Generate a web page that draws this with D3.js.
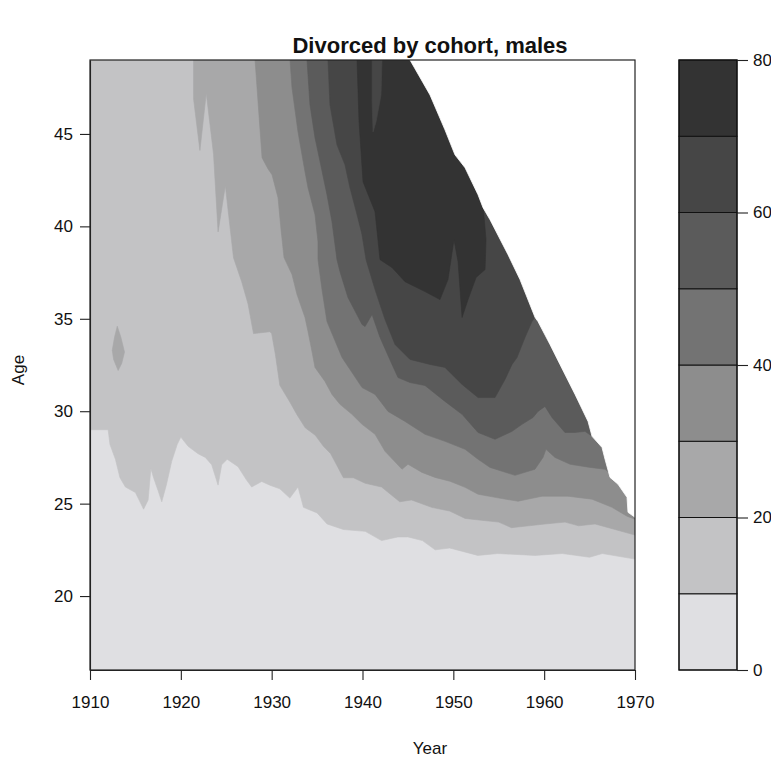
<!DOCTYPE html>
<html><head><meta charset="utf-8">
<script src="https://cdn.jsdelivr.net/npm/d3@7"></script>
<style>body{margin:0;background:#fff} svg{display:block} text{font-family:"Liberation Sans",Arial,Helvetica,sans-serif}</style>
</head><body><svg id="c" width="771" height="763"></svg>
<script>
// ---- data ----
const levels = [0,10,20,30,40,50,60,70,80];
const levelColors = ["#dfdfe2","#c3c3c5","#a8a8a9","#8d8d8d","#737373","#5b5b5b","#464646","#333333"];
const yearTicks = [1910,1920,1930,1940,1950,1960,1970];
const ageTicks = [20,25,30,35,40,45];
const keyTicks = [0,20,40,60,80];
const yearRange = [1910,1970];
const ageRange = [16,49];

// lower boundary (cohort year, age) of each level's region
const contour10 = [[1910,29.0],[1912.0,29.0],[1912.2,28.2],[1912.8,27.4],[1913.3,26.4],[1913.9,25.9],[1915.0,25.6],[1915.5,25.1],[1915.9,24.7],[1916.4,25.2],[1916.7,26.9],[1917.0,26.4],[1917.5,25.7],[1917.9,25.1],[1918.4,26.0],[1919.0,27.3],[1919.6,28.2],[1920.0,28.6],[1920.8,28.1],[1921.9,27.7],[1922.7,27.5],[1923.4,27.1],[1924.1,26.0],[1924.5,27.1],[1925.1,27.4],[1926.3,27.0],[1927.2,26.3],[1927.8,25.9],[1928.9,26.2],[1929.8,26.0],[1930.9,25.8],[1932.0,25.3],[1932.9,25.9],[1933.5,24.8],[1935.0,24.5],[1936.1,23.9],[1937.9,23.6],[1940.3,23.5],[1942.1,23.0],[1943.9,23.2],[1945.0,23.2],[1946.6,23.0],[1948.0,22.5],[1949.6,22.6],[1952.7,22.2],[1954.9,22.3],[1959.0,22.2],[1962.0,22.3],[1965.0,22.1],[1966.4,22.3],[1970,22.0]];
const contour20 = [[1921.4,49],[1921.4,46.9],[1922.1,44.1],[1922.8,47.2],[1923.6,43.9],[1924.1,39.7],[1924.9,42.2],[1925.8,38.3],[1926.7,37.0],[1927.4,35.8],[1928.0,34.2],[1929.8,34.3],[1930.0,34.2],[1930.4,33.1],[1930.9,31.4],[1932.0,30.5],[1932.8,29.8],[1933.7,29.1],[1934.8,28.7],[1935.7,28.1],[1936.5,27.7],[1937.9,26.4],[1939.0,26.4],[1940.3,26.1],[1942.1,25.9],[1944.1,25.1],[1945.4,25.2],[1947.6,24.8],[1949.6,24.6],[1951.3,24.2],[1953.1,24.1],[1955.0,24.0],[1956.4,23.7],[1958.3,23.8],[1960.1,23.9],[1962.3,24.0],[1963.8,23.8],[1965.6,23.9],[1967.8,23.6],[1970,23.3]];
const island20 = [[1913.0,34.6],[1913.4,34.0],[1913.8,33.2],[1913.5,32.6],[1913.1,32.2],[1912.6,32.8],[1912.45,33.3],[1912.7,34.0]];
const contour30 = [[1928.17,49],[1928.39,47.49],[1928.94,43.71],[1929.6,43.11],[1930.04,42.79],[1930.7,41.55],[1931.03,39.82],[1931.36,38.31],[1932.24,37.39],[1932.79,36.31],[1933.67,35.07],[1934.0,34.31],[1934.44,33.23],[1934.77,32.37],[1935.87,31.61],[1936.64,30.91],[1937.52,30.37],[1938.84,29.83],[1939.95,29.29],[1941.38,28.75],[1942.48,27.83],[1944.35,26.86],[1945.01,27.13],[1946.55,26.69],[1947.98,26.42],[1949.63,26.21],[1951.29,25.88],[1952.72,25.51],[1954.59,25.34],[1957.12,25.13],[1959.76,25.4],[1962.63,25.4],[1965.27,25.24],[1967.47,24.8],[1969.12,24.32],[1970,24.16]];
const contour40 = [[1932.02,49],[1932.24,47.49],[1932.9,45.11],[1933.34,43.87],[1933.67,42.95],[1934.0,42.09],[1934.77,40.63],[1935.1,39.17],[1935.1,38.2],[1935.54,36.58],[1936.09,34.85],[1937.74,32.91],[1939.95,31.28],[1941.38,30.91],[1942.81,29.99],[1944.68,29.45],[1946.88,28.75],[1949.08,28.37],[1951.29,27.94],[1952.72,27.4],[1954.04,26.96],[1956.79,26.53],[1958.99,26.86],[1959.87,27.5],[1960.2,27.94],[1961.19,27.5],[1962.85,27.13],[1965.05,26.96],[1966.7,26.86],[1967.8,26.42]];
const contour50 = [[1933.89,49],[1934.22,46.57],[1934.77,44.79],[1935.1,44.03],[1936.09,41.71],[1936.64,40.25],[1937.19,38.2],[1937.52,37.55],[1938.4,36.15],[1939.95,34.69],[1940.28,34.58],[1941.05,35.23],[1941.93,33.99],[1943.25,32.53],[1943.91,31.82],[1945.23,31.55],[1946.88,31.39],[1949.08,30.53],[1950.96,29.83],[1952.72,28.85],[1954.59,28.48],[1956.46,28.91],[1957.56,29.29],[1958.77,29.66],[1959.32,29.99],[1960.09,30.26],[1960.86,29.66],[1962.29,28.85],[1963.4,28.85],[1964.5,28.91],[1965.27,28.64],[1966.15,28.48]];
const contour60 = [[1936.2,49],[1936.42,46.57],[1937.19,44.41],[1938.07,43.33],[1938.62,42.09],[1939.4,40.63],[1939.95,39.55],[1940.39,38.2],[1941.38,36.58],[1942.48,34.96],[1943.58,33.61],[1945.23,32.8],[1947.43,32.53],[1949.08,32.37],[1950.96,31.45],[1952.72,30.74],[1954.59,30.74],[1955.69,31.72],[1956.46,32.53],[1957.01,32.9],[1957.89,33.99],[1958.66,34.85],[1959.54,35.5]];
const contour70 = [[1939.4,49],[1939.62,45.65],[1940.06,42.41],[1941.38,40.79],[1941.93,38.2],[1943.25,37.77],[1944.68,37.01],[1946.88,36.47],[1948.53,36.04],[1949.41,37.12],[1950.07,39.28],[1950.52,38.09],[1950.96,35.07],[1951.62,36.04],[1952.5,37.23],[1953.49,37.66],[1953.6,39.28],[1953.27,41.17],[1952.72,41.98]];
const notch60 = [[1941.05,49],[1942.15,49],[1942.04,47.11],[1941.49,45.65],[1941.16,45.11],[1941.05,46.84]];
// edge of observed data (cohort + age ~ survey year)
const observedEdge = [[1945.23,49],[1947.43,47.11],[1949.08,45.22],[1950.18,43.87],[1951.29,43.17],[1952.72,41.71],[1953.27,41.01],[1954.04,40.36],[1956.02,38.47],[1957.34,37.12],[1959.0,35.07],[1959.32,34.85],[1960.64,33.61],[1961.74,32.53],[1963.4,30.91],[1964.83,29.45],[1965.27,28.64],[1966.37,28.04],[1966.7,27.4],[1967.25,26.42],[1968.13,26.05],[1969.12,25.34],[1969.23,24.53],[1970,24.26]];

// ---- drawing ----
const svg = d3.select("#c");
const L = 90, R = 635, T = 60, B = 670;
const x = d3.scaleLinear().domain(yearRange).range([L, R]);
const y = d3.scaleLinear().domain(ageRange).range([B, T]);
const color = lv => levelColors[levels.indexOf(lv)];
const line = d3.line().x(d => x(d[0])).y(d => y(d[1]));

svg.append("defs").append("clipPath").attr("id","pc")
  .append("rect").attr("x",L).attr("y",T).attr("width",R-L).attr("height",B-T);
const g = svg.append("g").attr("clip-path","url(#pc)");

g.append("rect").attr("x",L).attr("y",T).attr("width",R-L).attr("height",B-T).attr("fill",color(0));

function closeTop(pts){
  const out = pts.slice();
  if (out[0][1] < ageRange[1]) out.unshift([out[0][0], ageRange[1]]);
  out.push([yearRange[1], ageRange[1]]);
  return out;
}
const regions = [
  {lv:10, pts:closeTop(contour10)},
  {lv:20, pts:closeTop(contour20)},
  {lv:20, pts:island20},
  {lv:30, pts:closeTop(contour30)},
  {lv:40, pts:closeTop(contour40)},
  {lv:50, pts:closeTop(contour50)},
  {lv:60, pts:closeTop(contour60)},
  {lv:70, pts:closeTop(contour70)},
  {lv:60, pts:notch60}
];
g.selectAll("path.band").data(regions).join("path").attr("class","band")
  .attr("d", d => line(d.pts) + "Z")
  .attr("fill", d => color(d.lv)).attr("stroke", d => color(d.lv)).attr("stroke-width",0.6);

// unobserved area
g.append("path").attr("d", line(observedEdge.concat([[yearRange[1], ageRange[1]]])) + "Z")
  .attr("fill","#fff").attr("stroke","#fff").attr("stroke-width",0.8);

svg.append("rect").attr("x",L).attr("y",T).attr("width",R-L).attr("height",B-T)
  .attr("fill","none").attr("stroke","#222").attr("stroke-width",1.2);

const fs = 17;
const xAxis = svg.append("g").attr("transform",`translate(0,${B})`)
  .call(d3.axisBottom(x).tickValues(yearTicks).tickFormat(d3.format("d")).tickSize(10).tickSizeOuter(0).tickPadding(16));
const yAxis = svg.append("g").attr("transform",`translate(${L},0)`)
  .call(d3.axisLeft(y).tickValues(ageTicks).tickSize(10).tickSizeOuter(0).tickPadding(7));
[xAxis,yAxis].forEach(a=>{
  a.selectAll("text").attr("font-size",fs).attr("fill","#111").attr("font-family",'"Liberation Sans",Arial,sans-serif');
  a.selectAll("line,path").attr("stroke","#222").attr("stroke-width",1.1);
});

svg.append("text").attr("x",430).attr("y",53).attr("text-anchor","middle")
  .attr("font-size",22).attr("font-weight","bold").attr("fill","#111").text("Divorced by cohort, males");
svg.append("text").attr("x",430).attr("y",754).attr("text-anchor","middle")
  .attr("font-size",fs).attr("fill","#111").text("Year");
svg.append("text").attr("transform","translate(24,370) rotate(-90)").attr("text-anchor","middle")
  .attr("font-size",fs).attr("fill","#111").text("Age");

// colour key
const kL = 679, kR = 737;
const ky = d3.scaleLinear().domain([levels[0], levels[levels.length-1]]).range([B, T]);
const kd = levels.slice(0,-1).map((v,i)=>({lo:v, hi:levels[i+1], c:levelColors[i]}));
svg.append("g").selectAll("rect").data(kd).join("rect")
  .attr("x",kL).attr("width",kR-kL).attr("y",d=>ky(d.hi)).attr("height",d=>ky(d.lo)-ky(d.hi))
  .attr("fill",d=>d.c).attr("stroke","#111").attr("stroke-width",1);
svg.append("rect").attr("x",kL).attr("y",T).attr("width",kR-kL).attr("height",B-T)
  .attr("fill","none").attr("stroke","#111").attr("stroke-width",1.2);
const kAxis = svg.append("g").attr("transform",`translate(${kR},0)`)
  .call(d3.axisRight(ky).tickValues(keyTicks).tickSize(11).tickSizeOuter(0).tickPadding(5));
kAxis.select("path.domain").remove();
kAxis.selectAll("text").attr("font-size",fs).attr("fill","#111");
kAxis.selectAll("line").attr("stroke","#222").attr("stroke-width",1.1);
</script></body></html>
